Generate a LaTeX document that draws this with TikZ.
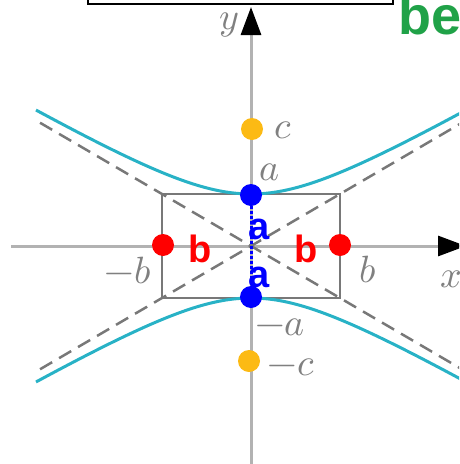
\documentclass[tikz,border=0pt]{standalone}
\usepackage{fontspec}
\usepackage{unicode-math}
\newfontfamily\boldlabel{Liberation Sans}[BoldFont={* Bold}]
\usetikzlibrary{arrows.meta,calc}
\definecolor{hypcyan}{RGB}{40,178,198}
\definecolor{axisgray}{RGB}{178,178,178}
\definecolor{boxgray}{RGB}{120,120,120}
\definecolor{dotorange}{RGB}{252,186,20}
\definecolor{begreen}{RGB}{32,162,72}
\tikzset{
  dot/.style={circle,fill=#1,inner sep=0pt,minimum size=22pt},
  graylabel/.style={text=black!50,font=\fontsize{38}{40}\selectfont,inner sep=0pt},
  keylabel/.style={text=#1,font=\boldlabel\bfseries\fontsize{38}{40}\selectfont,inner sep=0pt},
}
\begin{document}
\begin{tikzpicture}[x=1pt,y=-1pt]
	\useasboundingbox (0,0) rectangle (459,464);
	\clip (0,0) rectangle (459,464);
	
	% Origin and corners of the central box
	\coordinate (O) at (251,246);
	\coordinate (tl) at ($(O)+(-89,-52)$);
	\coordinate (tr) at ($(O)+(89,-52)$);
	\coordinate (br) at ($(O)+(89,52)$);
	\coordinate (bl) at ($(O)+(-89,52)$);
	
	% Axes
	\coordinate (xs) at (11,246);
	\coordinate (xe) at (466,246);
	\coordinate (ys) at (251,464);
	\coordinate (ye) at (251,7);
	\draw[axisgray,line width=3pt,-{Triangle[length=28pt,width=20pt,color=black]}] (xs) -- (xe);
	\draw[axisgray,line width=3pt,-{Triangle[length=28pt,width=20pt,color=black]}] (ys) -- (ye);
	
	% Box
	\draw[boxgray,line width=2.5pt] (tl) rectangle (br);
	
	% Asymptotes through the corners
	\draw[boxgray,line width=2.5pt,dashed,dash pattern=on 14pt off 8pt]
		($(O)!2.37!(tl)$) -- ($(O)!2.37!(br)$);
	\draw[boxgray,line width=2.5pt,dashed,dash pattern=on 14pt off 8pt]
		($(O)!2.37!(bl)$) -- ($(O)!2.37!(tr)$);
	
	% Hyperbola branches
	\foreach \s in {-1,1} {
		\draw[hypcyan,line width=3pt,smooth,samples=80]
			plot[domain=-215:215] ({251+\x},{246+\s*52*sqrt(1+(\x/89)^2)});
	}
	
	% Vertices, foci and co-vertices
	\node[dot=blue] (va) at (251,195) {};
	\node[dot=blue] (vb) at (251,297) {};
	\draw[blue,line width=3pt,dotted] (va) -- (vb);
	\node[dot=red] (wl) at (163,245) {};
	\node[dot=red] (wr) at (340,245) {};
	\node[dot=dotorange] (fa) at (252,129) {};
	\node[dot=dotorange] (fb) at (249,361) {};
	
	% Axis labels
	\node[graylabel] (ylab) at (229,25) {$y$};
	\node[graylabel] (xlab) at (451,279) {$x$};
	\node[graylabel] (alab) at (270,172) {$a$};
	\node[graylabel] (malab) at (280,327) {$-a$};
	\node[graylabel] (clab) at (283,130) {$c$};
	\node[graylabel] (mclab) at (291,367) {$-c$};
	\node[graylabel] (mblab) at (128,271) {$-b$};
	\node[graylabel] (blab) at (368,270) {$b$};
	
	% Bold key letters
	\node[keylabel=blue] (ka) at (259,229) {a};
	\node[keylabel=blue] (kb) at (259,277) {a};
	\node[keylabel=red] (kl) at (200,249) {b};
	\node[keylabel=red] (kr) at (306,249) {b};
	
	% Top frame and cut off word
	\draw[black,line width=2pt,fill=white] (88,-6) rectangle (393,4);
	\node[anchor=base west,text=begreen,font=\boldlabel\bfseries\fontsize{54}{56}\selectfont,inner sep=0pt]
		(be) at (398,34) {be};
\end{tikzpicture}
\end{document}
